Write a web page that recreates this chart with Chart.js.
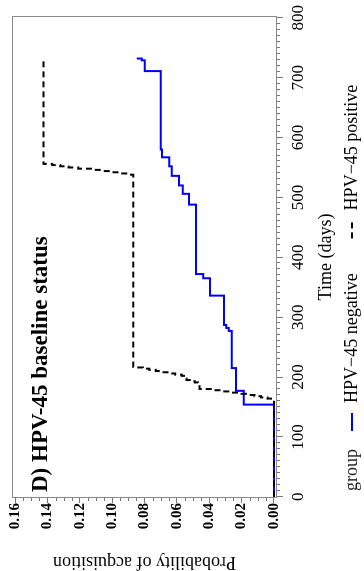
<!DOCTYPE html>
<html>
<head>
<meta charset="utf-8">
<script src="https://cdn.jsdelivr.net/npm/chart.js@4.4.0/dist/chart.umd.min.js"></script>
<style>
  html, body { margin: 0; padding: 0; background: #fff; }
  body { width: 364px; height: 571px; overflow: hidden; position: relative; }
  /* the panel is laid out landscape and turned a quarter turn anticlockwise */
  #wrap { position: absolute; left: 0; top: 0; width: 571px; height: 364px;
          transform-origin: 0 0; transform: translate(0, 571px) rotate(-90deg); }
  #myChart { display: block; }
</style>
</head>
<body>
<div id="wrap"><canvas id="myChart" width="571" height="364"></canvas></div>
<script>
// cumulative probability of acquisition, step at each event time (days)
const negTime = [0, 154, 177, 215, 277, 282, 287, 336, 365, 372, 488, 506, 520, 536, 552, 567, 580, 711, 729, 732];
const negProb = [0, 0.0187, 0.0235, 0.0261, 0.028, 0.0295, 0.0309, 0.0395, 0.0437, 0.0482, 0.0525, 0.0564, 0.0587, 0.0632, 0.0647, 0.0692, 0.0700, 0.0799, 0.0817, 0.0848];

const posTime = [0, 164, 166, 168, 170, 172, 174, 176, 178, 180, 189, 191, 193, 195, 198, 202, 204, 206, 208, 210, 212, 214, 216, 217, 538, 540, 542, 544, 546, 548, 550, 552, 554, 556, 732];
const posProb = [0, 0.004, 0.008, 0.012, 0.016, 0.020, 0.026, 0.032, 0.038, 0.046, 0.047, 0.049, 0.051, 0.054, 0.055, 0.057, 0.061, 0.065, 0.069, 0.073, 0.077, 0.081, 0.085, 0.087, 0.090, 0.095, 0.100, 0.106, 0.113, 0.121, 0.127, 0.132, 0.137, 0.1425, 0.1425];

const xTicks = [0, 100, 200, 300, 400, 500, 600, 700, 800];
const yTicks = [0, 0.02, 0.04, 0.06, 0.08, 0.10, 0.12, 0.14, 0.16];

const ctx = document.getElementById('myChart').getContext('2d');
const serif = '"Liberation Serif", "Times New Roman", serif';

function toPoints(t, p) {
    return t.map((v, i) => ({ x: v, y: p[i] }));
}

// grey frame round the plotting region
const panelBox = {
    id: 'panelBox',
    afterDatasetsDraw(chart) {
        const { ctx, chartArea: a } = chart;
        ctx.save();
        ctx.strokeStyle = '#8a8a8a';
        ctx.lineWidth = 1;
        ctx.strokeRect(a.left + 0.5, a.top + 0.5, a.right - a.left - 1, a.bottom - a.top - 1);
        ctx.restore();
    }
};

// short minor ticks between the labelled ones
const minorTicks = {
    id: 'minorTicks',
    afterDraw(chart) {
        const { ctx, chartArea: a, scales: { x, y } } = chart;
        ctx.save();
        ctx.strokeStyle = '#777';
        ctx.lineWidth = 1;
        ctx.beginPath();
        for (let d = 0; d <= 800; d += 10) {
            if (d % 100 === 0) continue;
            const px = Math.round(x.getPixelForValue(d)) + 0.5;
            ctx.moveTo(px, a.bottom);
            ctx.lineTo(px, a.bottom + 3);
        }
        for (let k = 0; k <= 32; k++) {
            if (k % 4 === 0) continue;
            const py = Math.round(y.getPixelForValue(k * 0.005)) + 0.5;
            ctx.moveTo(a.left - 3, py);
            ctx.lineTo(a.left, py);
        }
        ctx.stroke();
        ctx.restore();
    }
};

const panelTitle = {
    id: 'panelTitle',
    afterDraw(chart) {
        const { ctx, chartArea: a } = chart;
        ctx.save();
        ctx.font = 'bold 23px ' + serif;
        ctx.fillStyle = '#000';
        ctx.textAlign = 'left';
        ctx.textBaseline = 'alphabetic';
        ctx.fillText('D) HPV-45 baseline status', a.left + 6, a.top + 35);
        ctx.restore();
    }
};

// "group" legend laid out in one row under the axis title
const groupLegend = {
    id: 'groupLegend',
    afterDraw(chart) {
        const { ctx } = chart;
        const midY = 352;
        ctx.save();
        ctx.font = '18px ' + serif;
        ctx.textAlign = 'left';
        ctx.textBaseline = 'middle';
        ctx.fillStyle = '#222';
        let x = 80;
        ctx.fillText('group', x, midY);
        x += ctx.measureText('group').width + 18;
        chart.data.datasets.forEach((ds) => {
            ctx.beginPath();
            ctx.strokeStyle = ds.borderColor;
            ctx.lineWidth = ds.borderWidth;
            ctx.setLineDash(ds.borderDash || []);
            ctx.moveTo(x, midY);
            ctx.lineTo(x + 18, midY);
            ctx.stroke();
            ctx.setLineDash([]);
            x += 28;
            ctx.fillStyle = '#000';
            ctx.fillText(ds.label, x, midY);
            x += ctx.measureText(ds.label).width + 35;
        });
        ctx.restore();
    }
};

const myChart = new Chart(ctx, {
    type: 'line',
    data: {
        datasets: [{
            label: 'HPV\u221245 negative',
            data: toPoints(negTime, negProb),
            borderColor: '#0000ff',
            borderWidth: 2,
            stepped: 'before',
            pointRadius: 0,
            fill: false,
            order: 1
        }, {
            label: 'HPV\u221245 positive',
            data: toPoints(posTime, posProb),
            borderColor: '#000000',
            borderWidth: 2,
            borderDash: [6, 4],
            stepped: 'before',
            pointRadius: 0,
            fill: false,
            order: 0
        }]
    },
    options: {
        responsive: false,
        animation: false,
        devicePixelRatio: 1,
        layout: { padding: { top: 12, right: 11, left: 0, bottom: 0 } },
        plugins: {
            legend: { display: false },
            tooltip: { enabled: false }
        },
        scales: {
            x: {
                type: 'linear',
                min: -2,
                max: 803,
                afterBuildTicks: (s) => { s.ticks = xTicks.map(v => ({ value: v })); },
                afterFit: (s) => { s.height = 87; },
                grid: { drawOnChartArea: false, tickLength: 6, color: '#777' },
                border: { display: false },
                ticks: {
                    font: { family: serif, size: 17 },
                    color: '#000',
                    padding: 5,
                    maxRotation: 0,
                    autoSkip: false
                },
                title: {
                    display: true,
                    text: 'Time (days)',
                    font: { family: serif, size: 18 },
                    color: '#000',
                    padding: { top: 0, bottom: 27 }
                }
            },
            y: {
                type: 'linear',
                min: -0.0019,
                max: 0.1619,
                afterBuildTicks: (s) => { s.ticks = yTicks.map(v => ({ value: v })); },
                afterFit: (s) => { s.width = 73; },
                grid: { drawOnChartArea: false, tickLength: 5, color: '#777' },
                border: { display: false },
                ticks: {
                    font: { family: serif, size: 15, weight: 'bold' },
                    color: '#000',
                    padding: 0,
                    callback: (v) => Number(v).toFixed(2)
                },
                title: {
                    display: true,
                    text: 'Probability of acquisition',
                    font: { family: serif, size: 18, lineHeight: 1 },
                    color: '#000',
                    padding: 0
                }
            }
        }
    },
    plugins: [panelBox, minorTicks, panelTitle, groupLegend]
});
</script>
</body>
</html>
